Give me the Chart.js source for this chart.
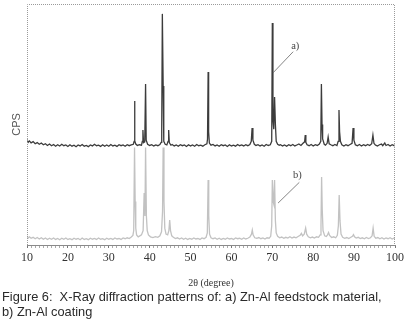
<!DOCTYPE html>
<html>
<head>
<meta charset="utf-8">
<script src="https://cdn.jsdelivr.net/npm/chart.js@4"></script>
<style>
  html, body { margin: 0; padding: 0; background: #fff; }
  body { width: 412px; height: 325px; position: relative; overflow: hidden; }
  #wrap { position: absolute; left: 0; top: 0; width: 412px; height: 292px; }
  #caption { position: absolute; left: 2px; top: 289px; width: 410px;
    font-family: "Liberation Sans", Arial, sans-serif; font-size: 12.8px; line-height: 15px; color: #2a2a2a; }
</style>
</head>
<body>
<div id="wrap"><canvas id="c" width="412" height="292"></canvas></div>
<div id="caption">Figure 6:&nbsp; X-Ray diffraction patterns of: a) Zn-Al feedstock material,<br>b) Zn-Al coating</div>
<script>
// Series a) Zn-Al feedstock material (dark trace, offset upward)
const twoThetaA = [10.0,10.3,10.6,11.0,11.5,12.0,12.5,13.0,13.5,14.0,14.5,15.0,15.5,16.0,16.5,17.0,17.5,18.0,18.5,19.0,19.5,20.0,20.5,21.0,21.5,22.0,22.5,23.0,23.5,24.0,24.5,25.0,25.5,26.0,26.5,27.0,27.5,28.0,28.5,29.0,29.5,30.0,30.5,31.0,31.5,32.0,32.5,33.0,33.5,34.0,34.5,35.0,35.5,36.0,36.2,36.3,36.4,36.6,37.0,37.5,38.0,38.2,38.35,38.5,38.8,39.0,39.15,39.5,40.0,40.5,41.0,41.5,42.0,42.5,42.8,42.95,43.1,43.3,43.45,43.8,44.2,44.5,44.65,44.8,45.2,45.5,46.0,46.5,47.0,47.5,48.0,48.5,49.0,49.5,50.0,50.5,51.0,51.5,52.0,52.5,53.0,53.5,54.0,54.15,54.3,54.42,54.6,55.0,55.5,56.0,56.5,57.0,57.5,58.0,58.5,59.0,59.5,60.0,60.5,61.0,61.5,62.0,62.5,63.0,63.5,64.0,64.5,64.85,65.05,65.25,65.6,66.0,66.5,67.0,67.5,68.0,68.5,69.0,69.5,69.85,70.0,70.15,70.35,70.55,70.75,70.95,71.3,71.7,72.0,72.5,73.0,73.5,74.0,74.5,75.0,75.5,76.0,76.5,77.0,77.5,77.9,78.05,78.2,78.5,79.0,79.5,80.0,80.5,81.0,81.5,81.85,82.0,82.15,82.3,82.7,83.0,83.4,83.65,83.9,84.3,84.8,85.3,85.8,86.1,86.3,86.45,86.65,87.0,87.5,88.0,88.5,89.0,89.5,89.75,89.95,90.3,90.8,91.3,91.8,92.3,92.8,93.3,93.8,94.3,94.6,94.85,95.2,95.7,96.2,96.7,97.0,97.5,97.8,98.3,98.8,99.3,99.8,100.0];
const cpsA = [43.8,42.6,43.2,42.4,42.9,42.0,42.5,41.8,42.3,41.6,42.0,41.3,41.9,41.2,41.7,41.0,41.6,41.1,41.8,41.2,41.5,40.9,41.6,41.0,41.4,40.8,41.5,41.1,41.7,41.0,41.3,40.8,41.5,41.1,41.8,41.2,41.4,40.9,41.6,41.0,41.5,41.0,41.7,41.1,41.4,40.9,41.6,41.2,41.5,41.0,41.6,41.2,41.5,41.8,43.0,59.8,43.2,41.9,41.3,41.6,41.4,43.0,47.7,42.5,42.8,66.8,43.5,41.8,41.3,41.6,41.1,41.5,41.2,41.7,42.6,48.0,95.9,66.0,43.0,41.8,41.5,43.0,47.7,42.5,41.4,41.7,41.1,41.5,41.0,41.6,41.2,41.5,40.9,41.6,41.1,41.5,41.0,41.7,41.2,41.4,41.0,41.6,42.0,44.0,71.8,47.0,42.3,41.4,41.7,41.1,41.5,41.0,41.6,41.2,41.5,40.9,41.6,41.1,41.4,41.0,41.7,41.2,41.5,41.1,41.6,41.2,41.7,43.0,48.5,43.5,41.8,41.3,41.6,41.1,41.5,41.0,41.7,41.3,41.6,43.0,92.1,52.0,48.0,61.4,50.0,43.0,41.8,41.4,41.6,41.1,41.5,41.0,41.6,41.2,41.7,41.1,41.5,41.9,41.3,42.2,42.8,45.6,42.6,41.6,41.2,41.7,41.1,41.6,41.3,41.9,43.0,66.8,50.0,44.0,41.8,41.4,42.2,44.8,42.0,41.6,41.2,41.7,41.3,43.0,56.0,47.0,43.0,41.6,41.1,41.6,41.2,41.7,42.2,48.5,43.5,41.6,41.2,41.7,41.1,41.6,41.2,41.7,41.3,42.0,45.6,42.2,41.5,41.1,41.6,41.9,41.2,42.3,41.3,41.7,41.1,41.6,41.2,41.5];

// Series b) Zn-Al coating (light trace)
const twoThetaB = [10.0,10.3,10.6,11.0,11.5,12.0,12.5,13.0,13.5,14.0,14.5,15.0,15.5,16.0,16.5,17.0,17.5,18.0,18.5,19.0,19.5,20.0,20.5,21.0,21.5,22.0,22.5,23.0,23.5,24.0,24.5,25.0,25.5,26.0,26.5,27.0,27.5,28.0,28.5,29.0,29.5,30.0,30.5,31.0,31.5,32.0,32.5,33.0,33.5,34.0,34.5,35.0,35.5,35.9,36.1,36.3,36.45,36.6,36.8,37.2,37.6,38.0,38.4,38.65,38.85,39.0,39.2,39.4,39.7,40.2,40.8,41.4,42.0,42.5,42.9,43.15,43.3,43.5,43.7,44.0,44.4,44.7,44.9,45.1,45.4,45.8,46.3,46.8,47.3,47.8,48.3,48.8,49.3,49.8,50.3,50.8,51.3,51.8,52.3,52.8,53.3,53.8,54.1,54.3,54.45,54.65,55.0,55.5,56.0,56.5,57.0,57.5,58.0,58.5,59.0,59.5,60.0,60.5,61.0,61.5,62.0,62.5,63.0,63.5,64.0,64.5,64.9,65.1,65.3,65.7,66.2,66.7,67.2,67.7,68.2,68.7,69.2,69.6,69.85,70.0,70.2,70.35,70.55,70.75,70.95,71.3,71.8,72.3,72.8,73.3,73.8,74.3,74.8,75.3,75.8,76.3,76.8,77.1,77.4,77.8,78.15,78.4,78.8,79.3,79.8,80.3,80.8,81.3,81.7,81.9,82.05,82.2,82.4,82.8,83.2,83.5,83.75,84.0,84.5,85.0,85.5,85.9,86.15,86.35,86.55,86.8,87.2,87.7,88.2,88.7,89.2,89.6,89.85,90.1,90.5,91.0,91.5,92.0,92.5,93.0,93.5,94.0,94.4,94.65,94.9,95.3,95.8,96.3,96.8,97.3,97.8,98.3,98.8,99.3,99.8,100.0];
const cpsB = [3.8,2.9,3.4,2.8,3.2,2.6,3.1,2.5,3.0,2.4,2.9,2.3,2.8,2.4,2.9,2.3,2.7,2.2,2.8,2.4,2.9,2.3,2.6,2.2,2.8,2.4,2.7,2.2,2.9,2.3,2.6,2.2,2.8,2.4,2.7,2.3,2.9,2.4,2.6,2.2,2.8,2.4,2.7,2.3,2.9,2.5,2.7,2.3,2.9,2.6,3.0,2.7,3.3,4.0,6.0,40.5,18.0,7.0,4.2,3.4,3.8,4.2,6.0,21.6,12.0,40.5,12.0,6.0,4.2,3.4,3.1,3.5,3.2,3.8,5.5,14.0,40.5,18.0,7.0,4.5,4.2,6.0,10.4,6.0,3.8,3.2,2.7,3.0,2.5,2.9,2.4,2.8,2.3,2.7,2.4,2.9,2.5,2.7,2.3,2.9,2.6,3.2,5.0,27.0,12.0,4.5,3.0,2.6,2.9,2.4,2.8,2.3,2.7,2.4,2.9,2.5,2.7,2.3,2.9,2.6,2.8,2.4,2.9,2.5,2.8,3.3,4.5,6.2,4.2,3.0,2.8,3.1,2.6,2.9,2.5,3.0,2.8,3.6,8.0,27.0,18.0,17.0,27.0,10.0,5.0,3.6,3.0,3.3,2.8,3.2,2.9,3.4,2.9,3.3,3.0,3.5,4.0,4.8,3.8,4.5,7.0,4.5,3.4,3.0,3.3,2.9,3.4,3.2,4.2,8.0,28.2,15.0,6.0,3.8,3.5,4.2,5.2,4.0,3.1,3.4,3.0,4.0,8.0,20.7,10.0,4.5,3.2,2.8,3.1,2.7,3.2,3.6,4.3,3.4,2.9,3.2,2.7,3.0,2.6,3.1,2.7,3.0,3.8,7.0,3.6,2.8,3.1,2.6,3.0,2.5,2.9,2.6,3.0,2.5,2.9,2.6];

const xTickValues = [10, 20, 30, 40, 50, 60, 70, 80, 90, 100];
const seriesLabels = ['a)', 'b)'];
// annotation label anchor (2θ, CPS) and leader line end points
const labelPos = [[75.6, 82.4], [76.1, 29.0]];
const leaderFrom = [[75.1, 80.2], [76.6, 26.0]];
const leaderTo = [[70.15, 71.4], [71.4, 17.4]];

const zip = (xs, ys) => xs.map((x, i) => ({ x: x, y: ys[i] }));

const frameAndLabels = {
  id: 'frameAndLabels',
  afterDatasetsDraw(chart) {
    const { ctx, chartArea: a, scales: { x, y } } = chart;
    ctx.save();
    ctx.strokeStyle = '#9a9a9a';
    ctx.lineWidth = 1;
    ctx.setLineDash([1, 1]);
    ctx.beginPath();
    ctx.moveTo(a.left + 0.5, a.bottom);
    ctx.lineTo(a.left + 0.5, a.top + 0.5);
    ctx.lineTo(a.right - 0.5, a.top + 0.5);
    ctx.lineTo(a.right - 0.5, a.bottom);
    ctx.stroke();
    ctx.setLineDash([]);
    ctx.strokeStyle = '#666';
    ctx.lineWidth = 0.8;
    ctx.fillStyle = '#444';
    ctx.font = '10.5px "Liberation Serif", "DejaVu Serif", serif';
    ctx.textAlign = 'center';
    ctx.textBaseline = 'middle';
    for (let i = 0; i < seriesLabels.length; i++) {
      ctx.beginPath();
      ctx.moveTo(x.getPixelForValue(leaderFrom[i][0]), y.getPixelForValue(leaderFrom[i][1]));
      ctx.lineTo(x.getPixelForValue(leaderTo[i][0]), y.getPixelForValue(leaderTo[i][1]));
      ctx.stroke();
      ctx.fillText(seriesLabels[i], x.getPixelForValue(labelPos[i][0]), y.getPixelForValue(labelPos[i][1]));
    }
    ctx.restore();
  }
};

new Chart(document.getElementById('c'), {
  type: 'line',
  data: {
    datasets: [
      { label: 'a) Zn-Al feedstock material', data: zip(twoThetaA, cpsA), borderColor: '#3c3c3c', borderWidth: 1.3, pointRadius: 0, tension: 0 },
      { label: 'b) Zn-Al coating', data: zip(twoThetaB, cpsB), borderColor: '#c2c2c2', borderWidth: 1.3, pointRadius: 0, tension: 0 }
    ]
  },
  options: {
    responsive: false,
    animation: false,
    events: [],
    layout: { padding: { left: 0, right: 17, top: 4, bottom: 0 } },
    plugins: { legend: { display: false }, tooltip: { enabled: false } },
    scales: {
      x: {
        type: 'linear', min: 10, max: 100,
        afterFit: s => { s.height = 47; },
        afterBuildTicks: s => {
          const t = [];
          for (let v = 10; v <= 100; v++) t.push({ value: v });
          s.ticks = t;
        },
        ticks: {
          autoSkip: false, maxRotation: 0, padding: 3,
          color: '#333',
          font: { family: '"Liberation Serif", "DejaVu Serif", serif', size: 12 },
          callback: v => (xTickValues.includes(v) ? String(v) : '')
        },
        grid: { display: true, drawOnChartArea: false, drawTicks: true, tickLength: 3,
          tickColor: c => (c.tick && xTickValues.includes(c.tick.value) ? '#777' : '#aaa') },
        border: { display: true, color: '#8a8a8a', width: 1 },
        title: { display: true, text: '2θ (degree)', color: '#333', padding: { top: 0, bottom: 3 },
          font: { family: '"Liberation Serif", "DejaVu Serif", serif', size: 10 } }
      },
      y: {
        min: 0, max: 100,
        afterFit: s => { s.width = 27; },
        ticks: { display: false },
        grid: { display: false },
        border: { display: false },
        title: { display: true, text: 'CPS', color: '#555', padding: { top: 10, bottom: 0 },
          font: { family: '"Liberation Sans", Arial, sans-serif', size: 11 } }
      }
    }
  },
  plugins: [frameAndLabels]
});
</script>
</body>
</html>
